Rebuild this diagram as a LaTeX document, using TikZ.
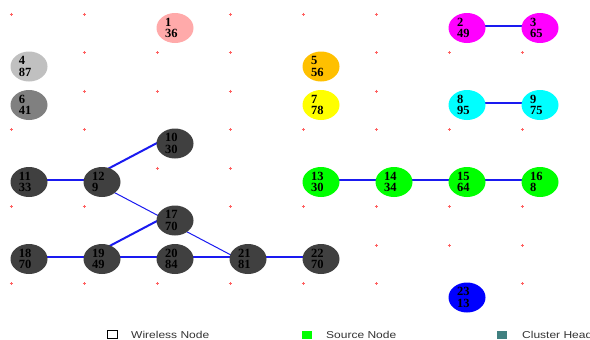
\documentclass[tikz,border=0pt]{standalone}
\usepackage{fontspec}
\setmainfont{Liberation Serif}
\newfontfamily\legfont{Liberation Sans}
\usetikzlibrary{shapes.geometric}
\pgfdeclarelayer{edgelayer}
\pgfsetlayers{edgelayer,main}
\definecolor{cpink}{HTML}{FFAAAA}
\definecolor{clgray}{HTML}{C0C0C0}
\definecolor{cgray}{HTML}{808080}
\definecolor{cdark}{HTML}{404040}
\definecolor{corange}{HTML}{FFC000}
\definecolor{cyel}{HTML}{FFFF00}
\definecolor{cmag}{HTML}{FF00FF}
\definecolor{ccyan}{HTML}{00FFFF}
\definecolor{cgreen}{HTML}{00FF00}
\definecolor{cblue}{HTML}{0000FF}
\definecolor{cteal}{HTML}{408080}
\definecolor{cedge}{HTML}{1A1AF0}
\definecolor{cdot}{HTML}{FF6060}
\definecolor{clegtext}{HTML}{333333}
\tikzset{
  nd/.style={ellipse, minimum width=37pt, minimum height=30pt, inner sep=0pt},
  ntxt/.style={font=\fontsize{12.5}{11.5}\selectfont\bfseries, align=left, text width=20pt, inner sep=0pt, text=black},
  edge/.style={draw=cedge, line width=2pt},
  thinedge/.style={draw=cedge, line width=1pt},
  dotmark/.style={draw=cdot, line width=0.8pt},
  legbox/.style={minimum width=10pt, minimum height=8pt, inner sep=0pt},
  legtext/.style={anchor=west, inner sep=0pt, text=clegtext, font=\legfont\fontsize{10}{12}\selectfont}
}
\newcommand\wsnode[5]{%
  \node[nd, fill=#4] (n#1) at ({29+73*#2},{28+38.5*#3}) {};
  \node[ntxt] (t#1) at (n#1.center) {#1\\#5};}
\begin{document}
\begin{tikzpicture}[x=1pt,y=-1pt]
\useasboundingbox (0,0) rectangle (590,340);
\clip (0,0) rectangle (590,340);
% grid dots of idle wireless nodes
\foreach \c/\r in {0/0,1/0,3/0,4/0,5/0,
                   1/1,2/1,3/1,5/1,6/1,7/1,
                   1/2,2/2,3/2,5/2,
                   0/3,1/3,3/3,4/3,5/3,6/3,7/3,
                   2/4,3/4,
                   0/5,1/5,3/5,4/5,5/5,6/5,7/5,
                   5/6,6/6,7/6,
                   0/7,1/7,2/7,3/7,4/7,5/7,7/7}{
  \draw[dotmark] ({11+73*\c-1.5},{14+38.5*\r}) -- ({11+73*\c+1.5},{14+38.5*\r})
                 ({11+73*\c},{14+38.5*\r-1.5}) -- ({11+73*\c},{14+38.5*\r+1.5});
}
% nodes
\wsnode{1}{2}{0}{cpink}{36}
\wsnode{2}{6}{0}{cmag}{49}
\wsnode{3}{7}{0}{cmag}{65}
\wsnode{4}{0}{1}{clgray}{87}
\wsnode{5}{4}{1}{corange}{56}
\wsnode{6}{0}{2}{cgray}{41}
\wsnode{7}{4}{2}{cyel}{78}
\wsnode{8}{6}{2}{ccyan}{95}
\wsnode{9}{7}{2}{ccyan}{75}
\wsnode{10}{2}{3}{cdark}{30}
\wsnode{11}{0}{4}{cdark}{33}
\wsnode{12}{1}{4}{cdark}{9}
\wsnode{13}{4}{4}{cgreen}{30}
\wsnode{14}{5}{4}{cgreen}{34}
\wsnode{15}{6}{4}{cgreen}{64}
\wsnode{16}{7}{4}{cgreen}{8}
\wsnode{17}{2}{5}{cdark}{70}
\wsnode{18}{0}{6}{cdark}{70}
\wsnode{19}{1}{6}{cdark}{49}
\wsnode{20}{2}{6}{cdark}{84}
\wsnode{21}{3}{6}{cdark}{81}
\wsnode{22}{4}{6}{cdark}{70}
\wsnode{23}{6}{7}{cblue}{13}
% connectors
\begin{pgfonlayer}{edgelayer}
  \foreach \a/\b in {2/3,8/9,11/12,13/14,14/15,15/16,18/19,19/20,20/21,21/22}{
    \draw[edge] ([yshift=2.5pt]n\a.center) -- ([yshift=2.5pt]n\b.center);
  }
  \draw[edge] ([yshift=10pt]n12.center) -- ([yshift=10pt]n10.center);
  \draw[edge] ([yshift=9pt]n19.center) -- ([yshift=9pt]n17.center);
  \draw[thinedge] ([yshift=-4pt]n12.center) -- ([yshift=-4pt]n17.center);
  \draw[thinedge] ([yshift=-5pt]n17.center) -- ([yshift=-5pt]n21.center);
\end{pgfonlayer}
% legend
\node[legbox, draw=black, fill=white, line width=0.7pt] (lw) at (112,334.5) {};
\node[legtext] (lwt) at (131,335) {\scalebox{1.2}[1]{Wireless Node}};
\node[legbox, fill=cgreen] (ls) at (307,334.5) {};
\node[legtext] (lst) at (326,335) {\scalebox{1.2}[1]{Source Node}};
\node[legbox, fill=cteal] (lc) at (502,334.5) {};
\node[legtext] (lct) at (522,335) {\scalebox{1.2}[1]{Cluster Head}};
\end{tikzpicture}
\end{document}
